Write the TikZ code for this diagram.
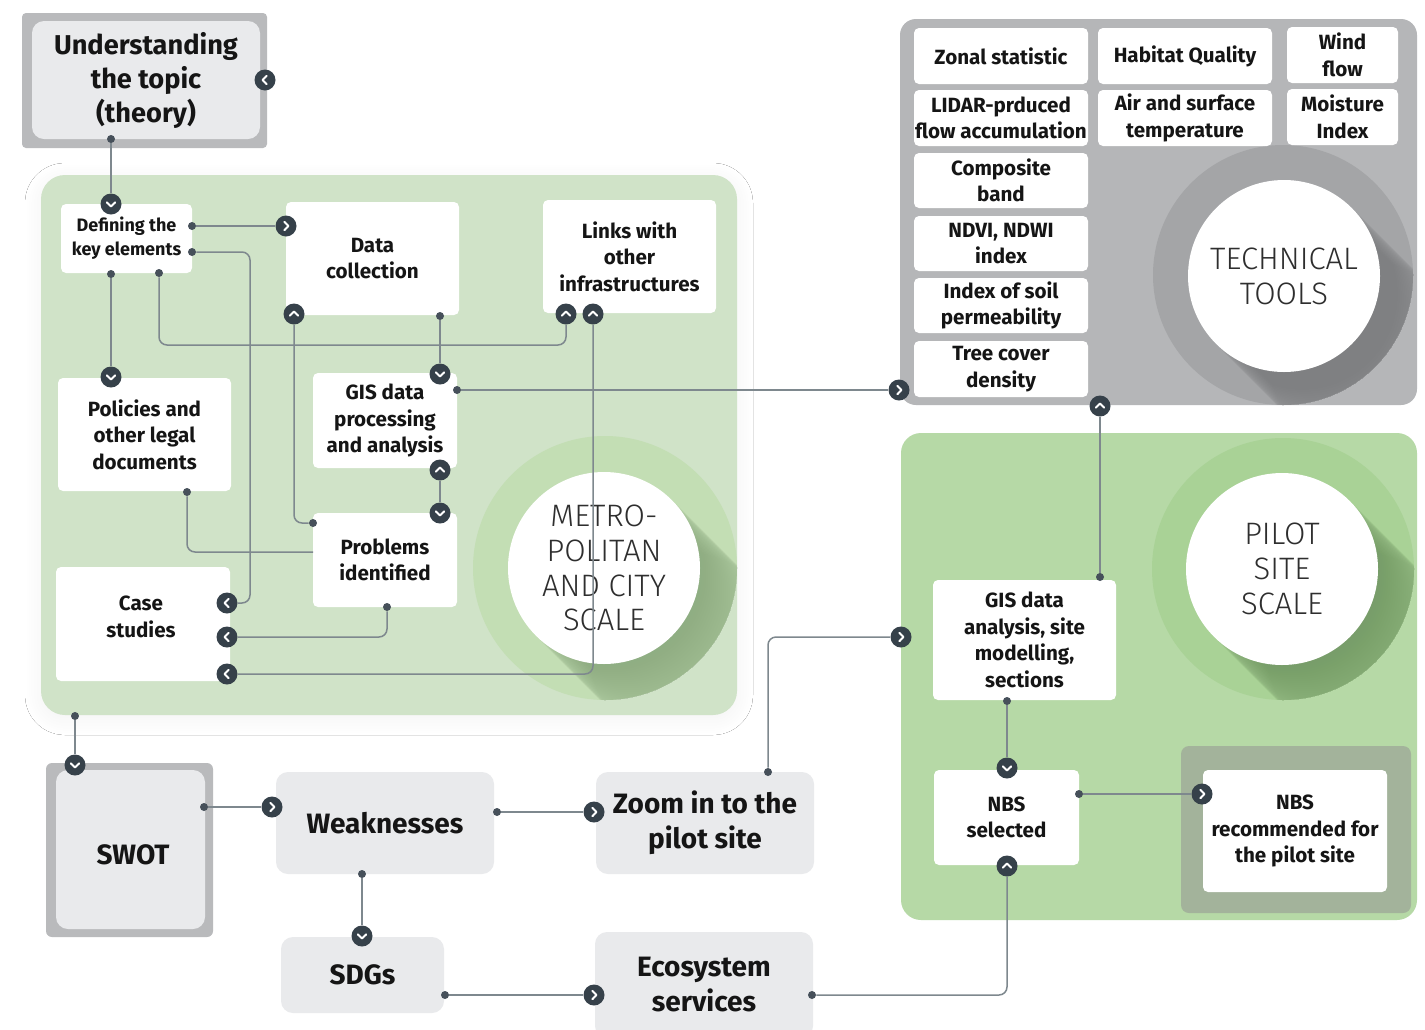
\documentclass[tikz,border=0pt]{standalone}
\usepackage{fontspec}
\setmainfont{Fira Sans}
\newfontfamily\lightfont{Fira Sans Light}
\usetikzlibrary{shadows.blur}

\definecolor{lineC}{HTML}{7E888E}
\definecolor{dotC}{HTML}{46505A}
\definecolor{badgeC}{HTML}{36414A}
\definecolor{metroG}{HTML}{D0E3C8}
\definecolor{metroRing}{HTML}{C3DEB4}
\definecolor{metroShade}{HTML}{8FAE83}
\definecolor{pilotG}{HTML}{B6D9A6}
\definecolor{pilotRing}{HTML}{A9D296}
\definecolor{pilotShade}{HTML}{789C6A}
\definecolor{techG}{HTML}{B5B6B8}
\definecolor{techRing}{HTML}{A4A5A7}
\definecolor{techShade}{HTML}{7F8082}
\definecolor{frameG}{HTML}{B9BABC}
\definecolor{paleG}{HTML}{E9EAEC}
\definecolor{recG}{HTML}{A3B39B}
\definecolor{inkC}{HTML}{151515}
\definecolor{circInk}{HTML}{2E2E2E}

\tikzset{
  conn/.style={draw=lineC, line width=0.75pt, rounded corners=4pt},
  jdot/.style={circle, fill=dotC, inner sep=0pt, minimum size=4pt},
  badge/.style={circle, fill=badgeC, inner sep=0pt, minimum size=10.5pt},
  chevstroke/.style={white, line width=1pt, line cap=round, line join=round,
      shift={(path picture bounding box.center)}},
  chevR/.style={badge, path picture={\draw[chevstroke] (-0.8pt,2.1pt) -- (1.2pt,0pt) -- (-0.8pt,-2.1pt);}},
  chevL/.style={badge, path picture={\draw[chevstroke] (0.8pt,2.1pt) -- (-1.2pt,0pt) -- (0.8pt,-2.1pt);}},
  chevU/.style={badge, path picture={\draw[chevstroke] (-2.1pt,-0.8pt) -- (0pt,1.2pt) -- (2.1pt,-0.8pt);}},
  chevD/.style={badge, path picture={\draw[chevstroke] (-2.1pt,0.8pt) -- (0pt,-1.2pt) -- (2.1pt,0.8pt);}},
  bigshadow/.style={blur shadow={shadow xshift=0pt, shadow yshift=-2pt,
      shadow blur radius=8pt, shadow blur steps=24, shadow opacity=5}},
  wbox/.style={rectangle, rounded corners=2.5pt, fill=white, inner sep=0pt, align=center,
      text=inkC, font=\bfseries\fontsize{10.3}{13.3}\selectfont},
  btext/.style={align=center, text=inkC, inner sep=0pt, font=\bfseries\fontsize{10.3}{13.3}\selectfont},
  gbox/.style={rectangle, rounded corners=6pt, fill=paleG, inner sep=0pt, align=center,
      text=inkC, font=\bfseries\fontsize{14}{17.5}\selectfont},
  circtext/.style={circle, fill=white, minimum size=96pt, inner sep=0pt, align=center,
      text=circInk, font=\lightfont\fontsize{15.5}{17.4}\selectfont},
}

\begin{document}
\begin{tikzpicture}[x=0.5pt,y=-0.5pt]
\fill[white] (0,0) rectangle (1425,1029);
\useasboundingbox (0,0) rectangle (1425,1029);

% ---------- panels ----------
\fill[frameG, rounded corners=2pt] (22,13) rectangle (267,148);
\fill[metroG, rounded corners=12pt, bigshadow] (41,175) rectangle (737,715);
\fill[techG, rounded corners=8pt] (900,19) rectangle (1417,405);
\fill[pilotG, rounded corners=10pt] (901,433) rectangle (1417,920);
\fill[frameG, rounded corners=3pt] (46,763) rectangle (213,937);
\fill[recG, rounded corners=4pt] (1181,746) rectangle (1411,913);

% ---------- scale circles with long shadows ----------
\begin{scope}
  \clip[rounded corners=12pt] (41,175) rectangle (737,715);
  \fill[metroRing] (605,568) circle [radius=66pt];
  \clip (605,568) circle [radius=66pt];
  \foreach \i in {1,...,40}
    \fill[metroShade, opacity=0.035] ({604+2*\i},{568+2*\i}) circle [radius=48pt];
\end{scope}
\node[circtext] (metro) at (604,568) {METRO-\\POLITAN\\AND CITY\\SCALE};

\begin{scope}
  \clip[rounded corners=8pt] (900,19) rectangle (1417,405);
  \fill[techRing] (1283,275) circle [radius=65pt];
  \clip (1283,275) circle [radius=65pt];
  \foreach \i in {1,...,40}
    \fill[techShade, opacity=0.035] ({1284+2*\i},{276+2*\i}) circle [radius=48pt];
\end{scope}
\node[circtext] (tech) at (1284,276) {TECHNICAL\\TOOLS};

\begin{scope}
  \clip[rounded corners=10pt] (901,433) rectangle (1417,920);
  \fill[pilotRing] (1283,569) circle [radius=65.5pt];
  \clip (1283,569) circle [radius=65.5pt];
  \foreach \i in {1,...,40}
    \fill[pilotShade, opacity=0.035] ({1282+2*\i},{569+2*\i}) circle [radius=48pt];
\end{scope}
\node[circtext] (pilot) at (1282,569) {PILOT\\SITE\\SCALE};

% ---------- boxes ----------
\node[gbox, minimum width=114pt, minimum height=59pt, font=\bfseries\fontsize{13.6}{17}\selectfont]
  (und) at (146,80) {Understanding\\the topic\\(theory)};

\node[wbox, minimum width=65.5pt, minimum height=34.5pt, font=\bfseries\fontsize{9}{12}\selectfont]
  (def) at (126.5,238.5) {Defining the\\key elements};
\node[wbox, minimum width=86.5pt, minimum height=56.5pt] (data) at (372.5,258.5) {Data\\collection};
\node[wbox, minimum width=86.5pt, minimum height=56.5pt] (links) at (629.5,256.5) {Links with\\other\\infrastructures};
\node[wbox, minimum width=86.5pt, minimum height=56.5pt] (pol) at (144.5,434.5) {Policies and\\other legal\\documents};
\node[wbox, minimum width=72pt, minimum height=47.5pt] (gis) at (385,420.5) {GIS data\\processing\\and analysis};
\node[wbox, minimum width=72pt, minimum height=47pt] (prob) at (385,560) {Problems\\identified};
\node[wbox, minimum width=87pt, minimum height=57pt] (case) at (143,624) {};
\node[btext] (caseT) at (141,617) {Case\\studies};

% technical tools
\node[wbox, minimum width=87pt, minimum height=28pt] (t1) at (1001,56) {Zonal statistic};
\node[wbox, minimum width=87pt, minimum height=28pt] (t2) at (1001,118) {LIDAR-prduced\\flow accumulation};
\node[wbox, minimum width=87pt, minimum height=27.5pt] (t3) at (1001,180.5) {Composite\\band};
\node[wbox, minimum width=87pt, minimum height=27.5pt] (t4) at (1001,243.5) {NDVI, NDWI\\index};
\node[wbox, minimum width=87pt, minimum height=27.5pt] (t5) at (1001,305.5) {Index of soil\\permeability};
\node[wbox, minimum width=87pt, minimum height=28pt] (t6) at (1001,369) {Tree cover\\density};
\node[wbox, minimum width=87pt, minimum height=28pt] (t7) at (1185,56) {Habitat Quality};
\node[wbox, minimum width=87pt, minimum height=28pt] (t8) at (1185,118) {Air and surface\\temperature};
\node[wbox, minimum width=55.5pt, minimum height=28pt] (t9) at (1342.5,55) {Wind\\flow};
\node[wbox, minimum width=55.5pt, minimum height=28pt] (t10) at (1342.5,117) {Moisture\\Index};

% pilot site
\node[wbox, minimum width=91.5pt, minimum height=60pt] (pgis) at (1024.5,640) {GIS data\\analysis, site\\modelling,\\sections};
\node[wbox, minimum width=72.5pt, minimum height=47.5pt] (nbs) at (1006.5,817.5) {NBS\\selected};
\node[wbox, minimum width=92pt, minimum height=61pt] (rec) at (1295,831) {NBS\\recommended for\\the pilot site};

% bottom row
\node[gbox, minimum width=74.5pt, minimum height=79.5pt] (swot) at (130.5,849.5) {};
\node[btext, font=\bfseries\fontsize{14}{17.5}\selectfont] (swotT) at (133,855) {SWOT};
\node[gbox, minimum width=109pt, minimum height=51pt] (weak) at (385,823) {Weaknesses};
\node[gbox, minimum width=109pt, minimum height=51pt] (zoom) at (705,823) {Zoom in to the\\pilot site};
\node[gbox, minimum width=81.5pt, minimum height=38pt] (sdg) at (362.5,975) {SDGs};
\node[gbox, minimum width=109pt, minimum height=53pt] (eco) at (704,985) {Ecosystem\\services};

% ---------- badges ----------
\node[chevL] (cU) at (265,80) {};
\node[chevD] (cDef) at (111,204) {};
\node[chevR] (cData) at (286,226) {};
\node[chevL] (cCase1) at (227,603) {};
\node[chevD] (cPol) at (111,377) {};
\node[chevU] (cLink1) at (566,314) {};
\node[chevU] (cLink2) at (593,314) {};
\node[chevU] (cDataUp) at (294,314) {};
\node[chevD] (cGISd) at (440,374) {};
\node[chevR] (cTech) at (899,390) {};
\node[chevU] (cGISu) at (440,470) {};
\node[chevD] (cProbD) at (440,513) {};
\node[chevL] (cCase2) at (227,637) {};
\node[chevL] (cCase3) at (227,674) {};
\node[chevD] (cSWOT) at (75,765) {};
\node[chevR] (cWeak) at (272,807) {};
\node[chevR] (cZoom) at (594,812) {};
\node[chevD] (cSDG) at (362,936) {};
\node[chevR] (cEco) at (594,995) {};
\node[chevU] (cTechUp) at (1100,406) {};
\node[chevR] (cPGIS) at (901,637) {};
\node[chevD] (cNBSd) at (1007,768) {};
\node[chevR] (cNBSr) at (1202,794) {};
\node[chevU] (cNBSu) at (1007,866) {};

% ---------- dots ----------
\node[jdot] (dU) at (111,139) {};
\node[jdot] (dDef1) at (192,226) {};
\node[jdot] (dDef2) at (192,252) {};
\node[jdot] (dDef3) at (111,274) {};
\node[jdot] (dDef4) at (159,273) {};
\node[jdot] (dData) at (440,316) {};
\node[jdot] (dGIS) at (457,390) {};
\node[jdot] (dPol) at (187,492) {};
\node[jdot] (dProbL) at (313,523) {};
\node[jdot] (dProbB) at (387,607) {};
\node[jdot] (dMetro) at (75,716) {};
\node[jdot] (dSWOT) at (204,807) {};
\node[jdot] (dWeakR) at (497,812) {};
\node[jdot] (dWeakB) at (362,874) {};
\node[jdot] (dSDG) at (445,995) {};
\node[jdot] (dZoom) at (768,772) {};
\node[jdot] (dEco) at (812,995) {};
\node[jdot] (dPGIS) at (1100,577) {};
\node[jdot] (dPGISb) at (1007,701) {};
\node[jdot] (dNBS) at (1079,794) {};
\coordinate (probW) at (313,552);

% ---------- connectors ----------
\draw[conn] (dU) -- (cDef);
\draw[conn] (dDef1) -- (cData);
\draw[conn] (dDef2) -- (250,252) -- (250,603) -- (cCase1);
\draw[conn] (dDef3) -- (cPol);
\draw[conn] (dDef4) -- (159,345) -- (566,345) -- (cLink1);
\draw[conn] (dProbL) -- (294,523) -- (cDataUp);
\draw[conn] (dData) -- (cGISd);
\draw[conn] (dGIS) -- (cTech);
\draw[conn] (cGISu) -- (cProbD);
\draw[conn] (dPol) -- (187,552) -- (probW);
\draw[conn] (dProbB) -- (387,637) -- (cCase2);
\draw[conn] (cLink2) -- (593,674) -- (cCase3);
\draw[conn] (dMetro) -- (cSWOT);
\draw[conn] (dSWOT) -- (cWeak);
\draw[conn] (dWeakR) -- (cZoom);
\draw[conn] (dWeakB) -- (cSDG);
\draw[conn] (dSDG) -- (cEco);
\draw[conn] (dZoom) -- (768,637) -- (cPGIS);
\draw[conn] (dPGIS) -- (cTechUp);
\draw[conn] (dPGISb) -- (cNBSd);
\draw[conn] (dNBS) -- (cNBSr);
\draw[conn] (dEco) -- (1007,995) -- (cNBSu);
\end{tikzpicture}
\end{document}
